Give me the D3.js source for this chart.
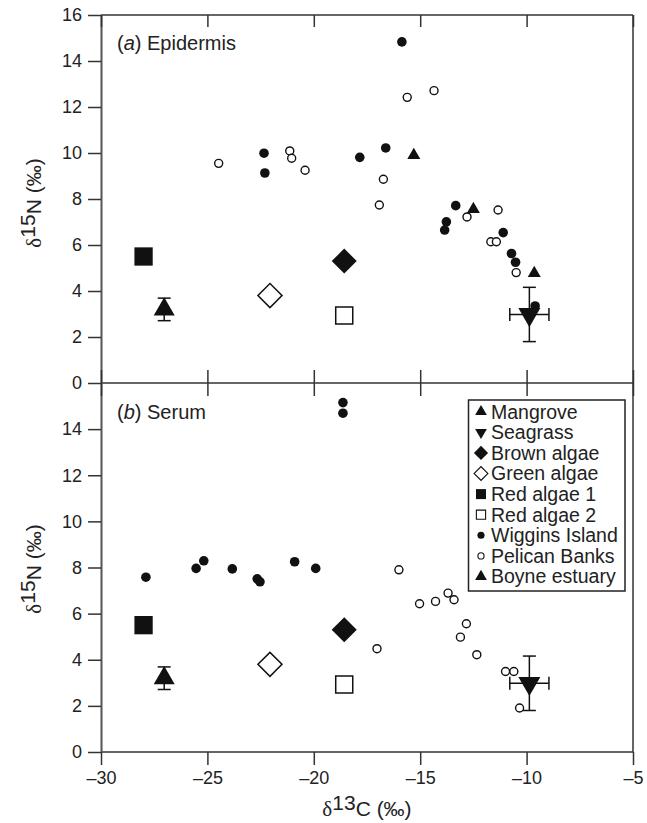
<!DOCTYPE html>
<html><head><meta charset="utf-8">
<script src="https://cdn.jsdelivr.net/npm/d3@7"></script>
<style>body{margin:0;background:#fff}</style>
</head><body>
<svg id="c" width="647" height="823"></svg>
<script>
// ---- Data ----
const xTicks = [-30, -25, -20, -15, -10, -5];
const yTicksTop = [0, 2, 4, 6, 8, 10, 12, 14, 16];
const yTicksBottom = [0, 2, 4, 6, 8, 10, 12, 14];

// food sources (same in both panels) [x, y]
const mangrove = [-27.03, 3.2], mangroveYErr = 0.49;
const seagrass = [-9.87, 2.98], seagrassXErr = 0.92, seagrassYErr = 1.18;
const brownAlgae = [-18.57, 5.3];
const greenAlgae = [-22.06, 3.8];
const redAlgae1 = [-28.0, 5.5];
const redAlgae2 = [-18.57, 2.93];

// (a) Epidermis
const epiWiggins = [[-22.34, 9.99], [-22.3, 9.13], [-15.86, 14.83], [-16.62, 10.22], [-17.84, 9.81],
  [-13.33, 7.71], [-13.77, 7.01], [-13.85, 6.65], [-11.1, 6.54], [-10.71, 5.63], [-10.52, 5.25], [-9.6, 3.35]];
const epiPelican = [[-24.47, 9.55], [-21.13, 10.09], [-21.04, 9.77], [-20.41, 9.25], [-15.61, 12.42],
  [-14.35, 12.71], [-16.73, 8.86], [-16.92, 7.74], [-12.8, 7.22], [-11.34, 7.52], [-11.68, 6.14],
  [-11.42, 6.14], [-10.49, 4.8]];
const epiBoyne = [[-15.3, 9.9], [-12.5, 7.55], [-9.64, 4.77]];

// (b) Serum
const serWiggins = [[-27.89, 7.58], [-25.53, 7.96], [-25.17, 8.29], [-23.83, 7.94], [-22.66, 7.51],
  [-22.53, 7.38], [-20.9, 8.25], [-19.91, 7.96], [-18.63, 15.15], [-18.63, 14.69]];
const serPelican = [[-16.0, 7.9], [-15.03, 6.43], [-14.28, 6.53], [-13.69, 6.89], [-13.41, 6.6],
  [-12.83, 5.56], [-13.11, 4.98], [-12.34, 4.22], [-17.03, 4.48], [-10.99, 3.49], [-10.6, 3.49], [-10.33, 1.91]];
const serBoyne = [];

const legendLabels = ["Mangrove", "Seagrass", "Brown algae", "Green algae", "Red algae 1",
  "Red algae 2", "Wiggins Island", "Pelican Banks", "Boyne estuary"];

// ---- Layout ----
const svg = d3.select("#c");
const FONT = "'Liberation Sans', Arial, Helvetica, sans-serif";
const L = 101, R = 633;
const x = d3.scaleLinear().domain([-30, -5]).range([L, R]);
const yTop = d3.scaleLinear().domain([0, 16]).range([383, 15]);
const yBot = d3.scaleLinear().domain([0, 16]).range([752, 383]);
const AX = "#333";

// frame lines
const frame = svg.append("g").attr("stroke", AX).attr("stroke-width", 1.5).attr("fill", "none");
frame.append("line").attr("x1", L).attr("x2", R).attr("y1", yTop(16)).attr("y2", yTop(16));
frame.append("line").attr("x1", R).attr("x2", R).attr("y1", yTop(16)).attr("y2", yBot(0));
frame.append("line").attr("x1", L).attr("x2", R).attr("y1", yTop(0)).attr("y2", yTop(0));
frame.append("line").attr("x1", L).attr("x2", R).attr("y1", yBot(0)).attr("y2", yBot(0));

function styleAxis(g) {
  g.selectAll(".domain").attr("stroke", AX).attr("stroke-width", 1.5);
  g.selectAll(".tick line").attr("stroke", AX).attr("stroke-width", 1.5);
  g.selectAll(".tick text").attr("fill", "#222").style("font-family", FONT).style("font-size", "18px");
}
const fmt = d => d < 0 ? "\u2013" + Math.abs(d) : String(d);

// left axes
svg.append("g").attr("transform", `translate(${L},0)`)
  .call(d3.axisLeft(yTop).tickValues(yTicksTop).tickSize(13).tickSizeOuter(0).tickPadding(6).tickFormat(fmt))
  .call(styleAxis).select(".domain").attr("stroke", "#555").attr("stroke-width", 2);
svg.append("g").attr("transform", `translate(${L},0)`)
  .call(d3.axisLeft(yBot).tickValues(yTicksBottom).tickSize(13).tickSizeOuter(0).tickPadding(6).tickFormat(fmt))
  .call(styleAxis).select(".domain").attr("stroke", "#555").attr("stroke-width", 2);

// x ticks: top inner, boundary crossing, bottom outer with labels
svg.append("g").attr("transform", `translate(0,${yTop(16)})`)
  .call(d3.axisTop(x).tickValues(xTicks).tickSize(-12).tickSizeOuter(0).tickFormat(""))
  .call(styleAxis).select(".domain").remove();
svg.append("g").attr("transform", `translate(0,${yTop(0)})`)
  .call(d3.axisTop(x).tickValues(xTicks).tickSize(13).tickSizeOuter(0).tickFormat(""))
  .call(styleAxis).select(".domain").remove();
svg.append("g").attr("transform", `translate(0,${yTop(0)})`)
  .call(d3.axisBottom(x).tickValues(xTicks).tickSize(13).tickSizeOuter(0).tickFormat(""))
  .call(styleAxis).select(".domain").remove();
svg.append("g").attr("transform", `translate(0,${yBot(0)})`)
  .call(d3.axisBottom(x).tickValues(xTicks).tickSize(13).tickSizeOuter(0).tickPadding(6).tickFormat(fmt))
  .call(styleAxis).select(".domain").remove();

// axis titles
function deltaLabel(sel, sup, letter) {
  sel.append("tspan").style("font-family", "'Liberation Serif', 'Times New Roman', serif").text("\u03b4");
  sel.append("tspan").attr("dy", -6).text(sup);
  sel.append("tspan").attr("dy", 6).text(letter + " (\u2030)");
}
[[yTop, 203], [yBot, 569]].forEach(([s, cy]) => {
  const t = svg.append("text").attr("transform", `translate(41,${cy}) rotate(-90)`)
    .attr("text-anchor", "middle").style("font-family", FONT).style("font-size", "21px").attr("fill", "#222");
  deltaLabel(t, "15", "N");
});
const xt = svg.append("text").attr("x", (L + R) / 2).attr("y", 816).attr("text-anchor", "middle")
  .style("font-family", FONT).style("font-size", "21px").attr("fill", "#222");
deltaLabel(xt, "13", "C");

// panel labels
function panelLabel(yPos, letter, name) {
  const t = svg.append("text").attr("x", 117).attr("y", yPos).style("font-family", FONT)
    .style("font-size", "20px").attr("fill", "#222");
  t.append("tspan").text("(");
  t.append("tspan").style("font-style", "italic").text(letter);
  t.append("tspan").text(") " + name);
}
panelLabel(50, "a", "Epidermis");
panelLabel(419, "b", "Serum");

// ---- Marks ----
const sym = (type, size) => d3.symbol().type(type).size(size)();
function drawPanel(y, wiggins, pelican, boyne) {
  const g = svg.append("g");
  // error bars
  const eb = g.append("g").attr("stroke", "#111").attr("stroke-width", 1.5);
  const cap = 6.5;
  eb.append("line").attr("x1", x(mangrove[0])).attr("x2", x(mangrove[0]))
    .attr("y1", y(mangrove[1] - mangroveYErr)).attr("y2", y(mangrove[1] + mangroveYErr));
  [mangrove[1] - mangroveYErr, mangrove[1] + mangroveYErr].forEach(v =>
    eb.append("line").attr("x1", x(mangrove[0]) - cap).attr("x2", x(mangrove[0]) + cap).attr("y1", y(v)).attr("y2", y(v)));
  eb.append("line").attr("x1", x(seagrass[0])).attr("x2", x(seagrass[0]))
    .attr("y1", y(seagrass[1] - seagrassYErr)).attr("y2", y(seagrass[1] + seagrassYErr));
  [seagrass[1] - seagrassYErr, seagrass[1] + seagrassYErr].forEach(v =>
    eb.append("line").attr("x1", x(seagrass[0]) - cap).attr("x2", x(seagrass[0]) + cap).attr("y1", y(v)).attr("y2", y(v)));
  eb.append("line").attr("y1", y(seagrass[1])).attr("y2", y(seagrass[1]))
    .attr("x1", x(seagrass[0] - seagrassXErr)).attr("x2", x(seagrass[0] + seagrassXErr));
  [seagrass[0] - seagrassXErr, seagrass[0] + seagrassXErr].forEach(v =>
    eb.append("line").attr("x1", x(v)).attr("x2", x(v)).attr("y1", y(seagrass[1]) - cap).attr("y2", y(seagrass[1]) + cap));

  // points
  g.selectAll(".pel").data(pelican).join("circle")
    .attr("cx", d => x(d[0])).attr("cy", d => y(d[1])).attr("r", 4)
    .attr("fill", "#fff").attr("stroke", "#111").attr("stroke-width", 1.4);
  g.selectAll(".wig").data(wiggins).join("circle")
    .attr("cx", d => x(d[0])).attr("cy", d => y(d[1])).attr("r", 4.8).attr("fill", "#111");
  g.selectAll(".boy").data(boyne).join("path")
    .attr("d", sym(d3.symbolTriangle, 73))
    .attr("transform", d => `translate(${x(d[0])},${y(d[1])})`).attr("fill", "#111");

  // sources
  g.append("path").attr("d", sym(d3.symbolSquare, 335))
    .attr("transform", `translate(${x(redAlgae1[0])},${y(redAlgae1[1])})`).attr("fill", "#111");
  g.append("path").attr("d", sym(d3.symbolSquare, 290))
    .attr("transform", `translate(${x(redAlgae2[0])},${y(redAlgae2[1])})`)
    .attr("fill", "#fff").attr("stroke", "#111").attr("stroke-width", 1.5);
  g.append("path").attr("d", sym(d3.symbolSquare, 313))
    .attr("transform", `translate(${x(brownAlgae[0])},${y(brownAlgae[1])}) rotate(45)`).attr("fill", "#111");
  g.append("path").attr("d", sym(d3.symbolSquare, 290))
    .attr("transform", `translate(${x(greenAlgae[0])},${y(greenAlgae[1])}) rotate(45)`)
    .attr("fill", "#fff").attr("stroke", "#111").attr("stroke-width", 1.5);
  g.append("path").attr("d", sym(d3.symbolTriangle, 191))
    .attr("transform", `translate(${x(mangrove[0])},${y(mangrove[1])})`).attr("fill", "#111");
  g.append("path").attr("d", sym(d3.symbolTriangle, 209))
    .attr("transform", `translate(${x(seagrass[0])},${y(seagrass[1])}) rotate(180)`).attr("fill", "#111");
}
drawPanel(yTop, epiWiggins, epiPelican, epiBoyne);
drawPanel(yBot, serWiggins, serPelican, serBoyne);

// ---- Legend ----
const lg = svg.append("g");
lg.append("rect").attr("x", 468.5).attr("y", 400).attr("width", 156.5).attr("height", 191)
  .attr("fill", "#fff").attr("stroke", "#222").attr("stroke-width", 1.5);
const legendSyms = [
  {t: d3.symbolTriangle, s: 60, fill: true, rot: 0},
  {t: d3.symbolTriangle, s: 60, fill: true, rot: 180},
  {t: d3.symbolSquare, s: 100, fill: true, rot: 45},
  {t: d3.symbolSquare, s: 95, fill: false, rot: 45},
  {t: d3.symbolSquare, s: 100, fill: true, rot: 0},
  {t: d3.symbolSquare, s: 85, fill: false, rot: 0},
  {t: d3.symbolCircle, s: 40, fill: true, rot: 0},
  {t: d3.symbolCircle, s: 30, fill: false, rot: 0},
  {t: d3.symbolTriangle, s: 60, fill: true, rot: 0}
];
legendLabels.forEach((lab, i) => {
  const cy = 411.7 + i * 20.6;
  const s = legendSyms[i];
  lg.append("path").attr("d", sym(s.t, s.s))
    .attr("transform", `translate(481,${cy}) rotate(${s.rot})`)
    .attr("fill", s.fill ? "#111" : "#fff").attr("stroke", s.fill ? "none" : "#111").attr("stroke-width", 1.1);
  lg.append("text").attr("x", 491).attr("y", cy).attr("dy", "0.35em")
    .style("font-family", FONT).style("font-size", "19.5px").attr("fill", "#222").text(lab);
});
</script>
</body></html>
